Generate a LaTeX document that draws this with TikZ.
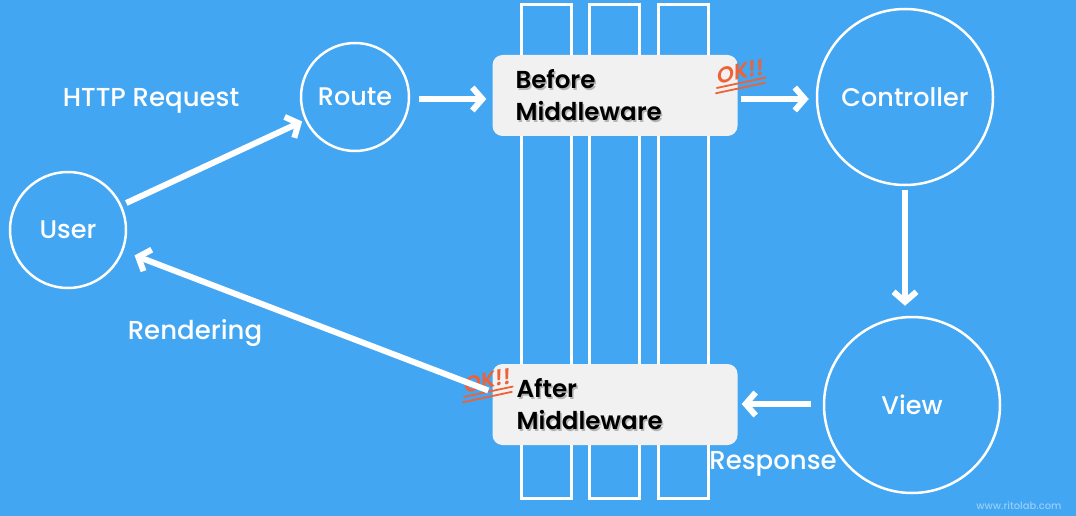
\documentclass[tikz,border=0pt]{standalone}
\usepackage{fontspec}
\setmainfont{Fira Sans}
\newfontfamily\medfont{Poppins Medium}
\newfontfamily\semifont{Poppins SemiBold}
\newfontfamily\okfont{Poppins SemiBold}[FakeSlant=0.22]
\usetikzlibrary{arrows.meta}
\definecolor{bg}{HTML}{42A6F3}
\definecolor{okred}{HTML}{EE6236}
\definecolor{boxfill}{HTML}{F1F1F1}
\begin{document}
\begin{tikzpicture}[x=1pt,y=-1pt,
  circ/.style={circle,draw=white,line width=2.5pt,text=white,inner sep=0pt,
    font=\medfont\fontsize{25.5}{28}\selectfont},
  lbl/.style={text=white,inner sep=0pt,font=\medfont\fontsize{26}{28}\selectfont},
  colbox/.style={draw=white,line width=3pt,minimum width=50pt,minimum height=493pt,inner sep=0pt},
  mwbox/.style={fill=boxfill,rounded corners=10pt,minimum width=245pt,minimum height=81pt,inner sep=0pt},
  mwtext/.style={align=left,inner sep=0pt,anchor=west,
    font=\semifont\fontsize{24.5}{32}\selectfont},
  arr/.style={draw=white,line width=6pt,-{Straight Barb[length=10pt,width=23pt]}},
  ok/.style={text=okred,inner sep=0pt,transform shape,
    font=\okfont\fontsize{22}{24}\selectfont},
  okline/.style={draw=okred,line width=1.8pt,line cap=round}]
\fill[bg] (0,0) rectangle (1076,516);
\useasboundingbox (0,0) rectangle (1076,516);

% middleware columns
\node[colbox] (c1) at (546,251.5) {};
\node[colbox] (c2) at (614,251.5) {};
\node[colbox] (c3) at (683,251.5) {};

% circles
\node[circ,minimum size=116pt] (user) at (68,230) {User};
\node[circ,minimum size=108pt] (route) at (355,97) {Route};
\node[circ,minimum size=176pt] (ctrl) at (905,97) {Controller};
\node[circ,minimum size=176pt] (view) at (912,405) {View};

% middleware boxes
\node[mwbox] (before) at (615,95.5) {};
\node[mwtext,text=black!45,opacity=0.6] (beforeS) at ([xshift=24.5pt,yshift=-1.5pt]before.west) {Before\\Middleware};
\node[mwtext] (beforeT) at ([xshift=23pt]before.west) {Before\\Middleware};
\node[mwbox] (after) at (615,404.5) {};
\node[mwtext,text=black!45,opacity=0.6] (afterS) at ([xshift=25.5pt,yshift=-1.5pt]after.west) {After\\Middleware};
\node[mwtext] (afterT) at ([xshift=24pt]after.west) {After\\Middleware};

% OK stamps
\begin{scope}[shift={(739,72)},rotate=12]
  \node[ok] (ok1) at (0,0) {OK!{}!};
  \draw[okline] (-25,11) -- (25,11);
  \draw[okline] (-27,16) -- (23,16);
\end{scope}
\begin{scope}[shift={(486,381)},rotate=12]
  \node[ok] (ok2) at (0,0) {OK!{}!};
  \draw[okline] (-25,11) -- (25,11);
  \draw[okline] (-27,16) -- (23,16);
\end{scope}

% arrows
\draw[arr,shorten <=5pt,shorten >=3pt] (user) -- (route);
\draw[arr] ([xshift=9pt,yshift=-2pt]route.east) -- ([xshift=-6pt,yshift=-3.5pt]before.west);
\draw[arr] ([xshift=3pt,yshift=-3.5pt]before.east) -- ([xshift=-7pt,yshift=-2pt]ctrl.west);
\draw[arr] ([yshift=-4pt]ctrl.south) -- ([xshift=-7pt,yshift=10pt]view.north);
\draw[arr] ([xshift=-12pt,yshift=1pt]view.west) -- ([xshift=4pt,yshift=0.5pt]after.east);
\draw[arr,shorten >=12pt] ([xshift=-4pt,yshift=14pt]after.west) -- (user);

% labels
\node[lbl] (lreq) at (151,101) {HTTP Request};
\node[lbl] (lrend) at (195,333) {Rendering};
\node[lbl] (lresp) at (773,464) {Response};
\node[text=white,opacity=0.45,inner sep=0pt,font=\medfont\fontsize{10}{12}\selectfont] (wm) at (1019,506) {www.ritolab.com};
\end{tikzpicture}
\end{document}
